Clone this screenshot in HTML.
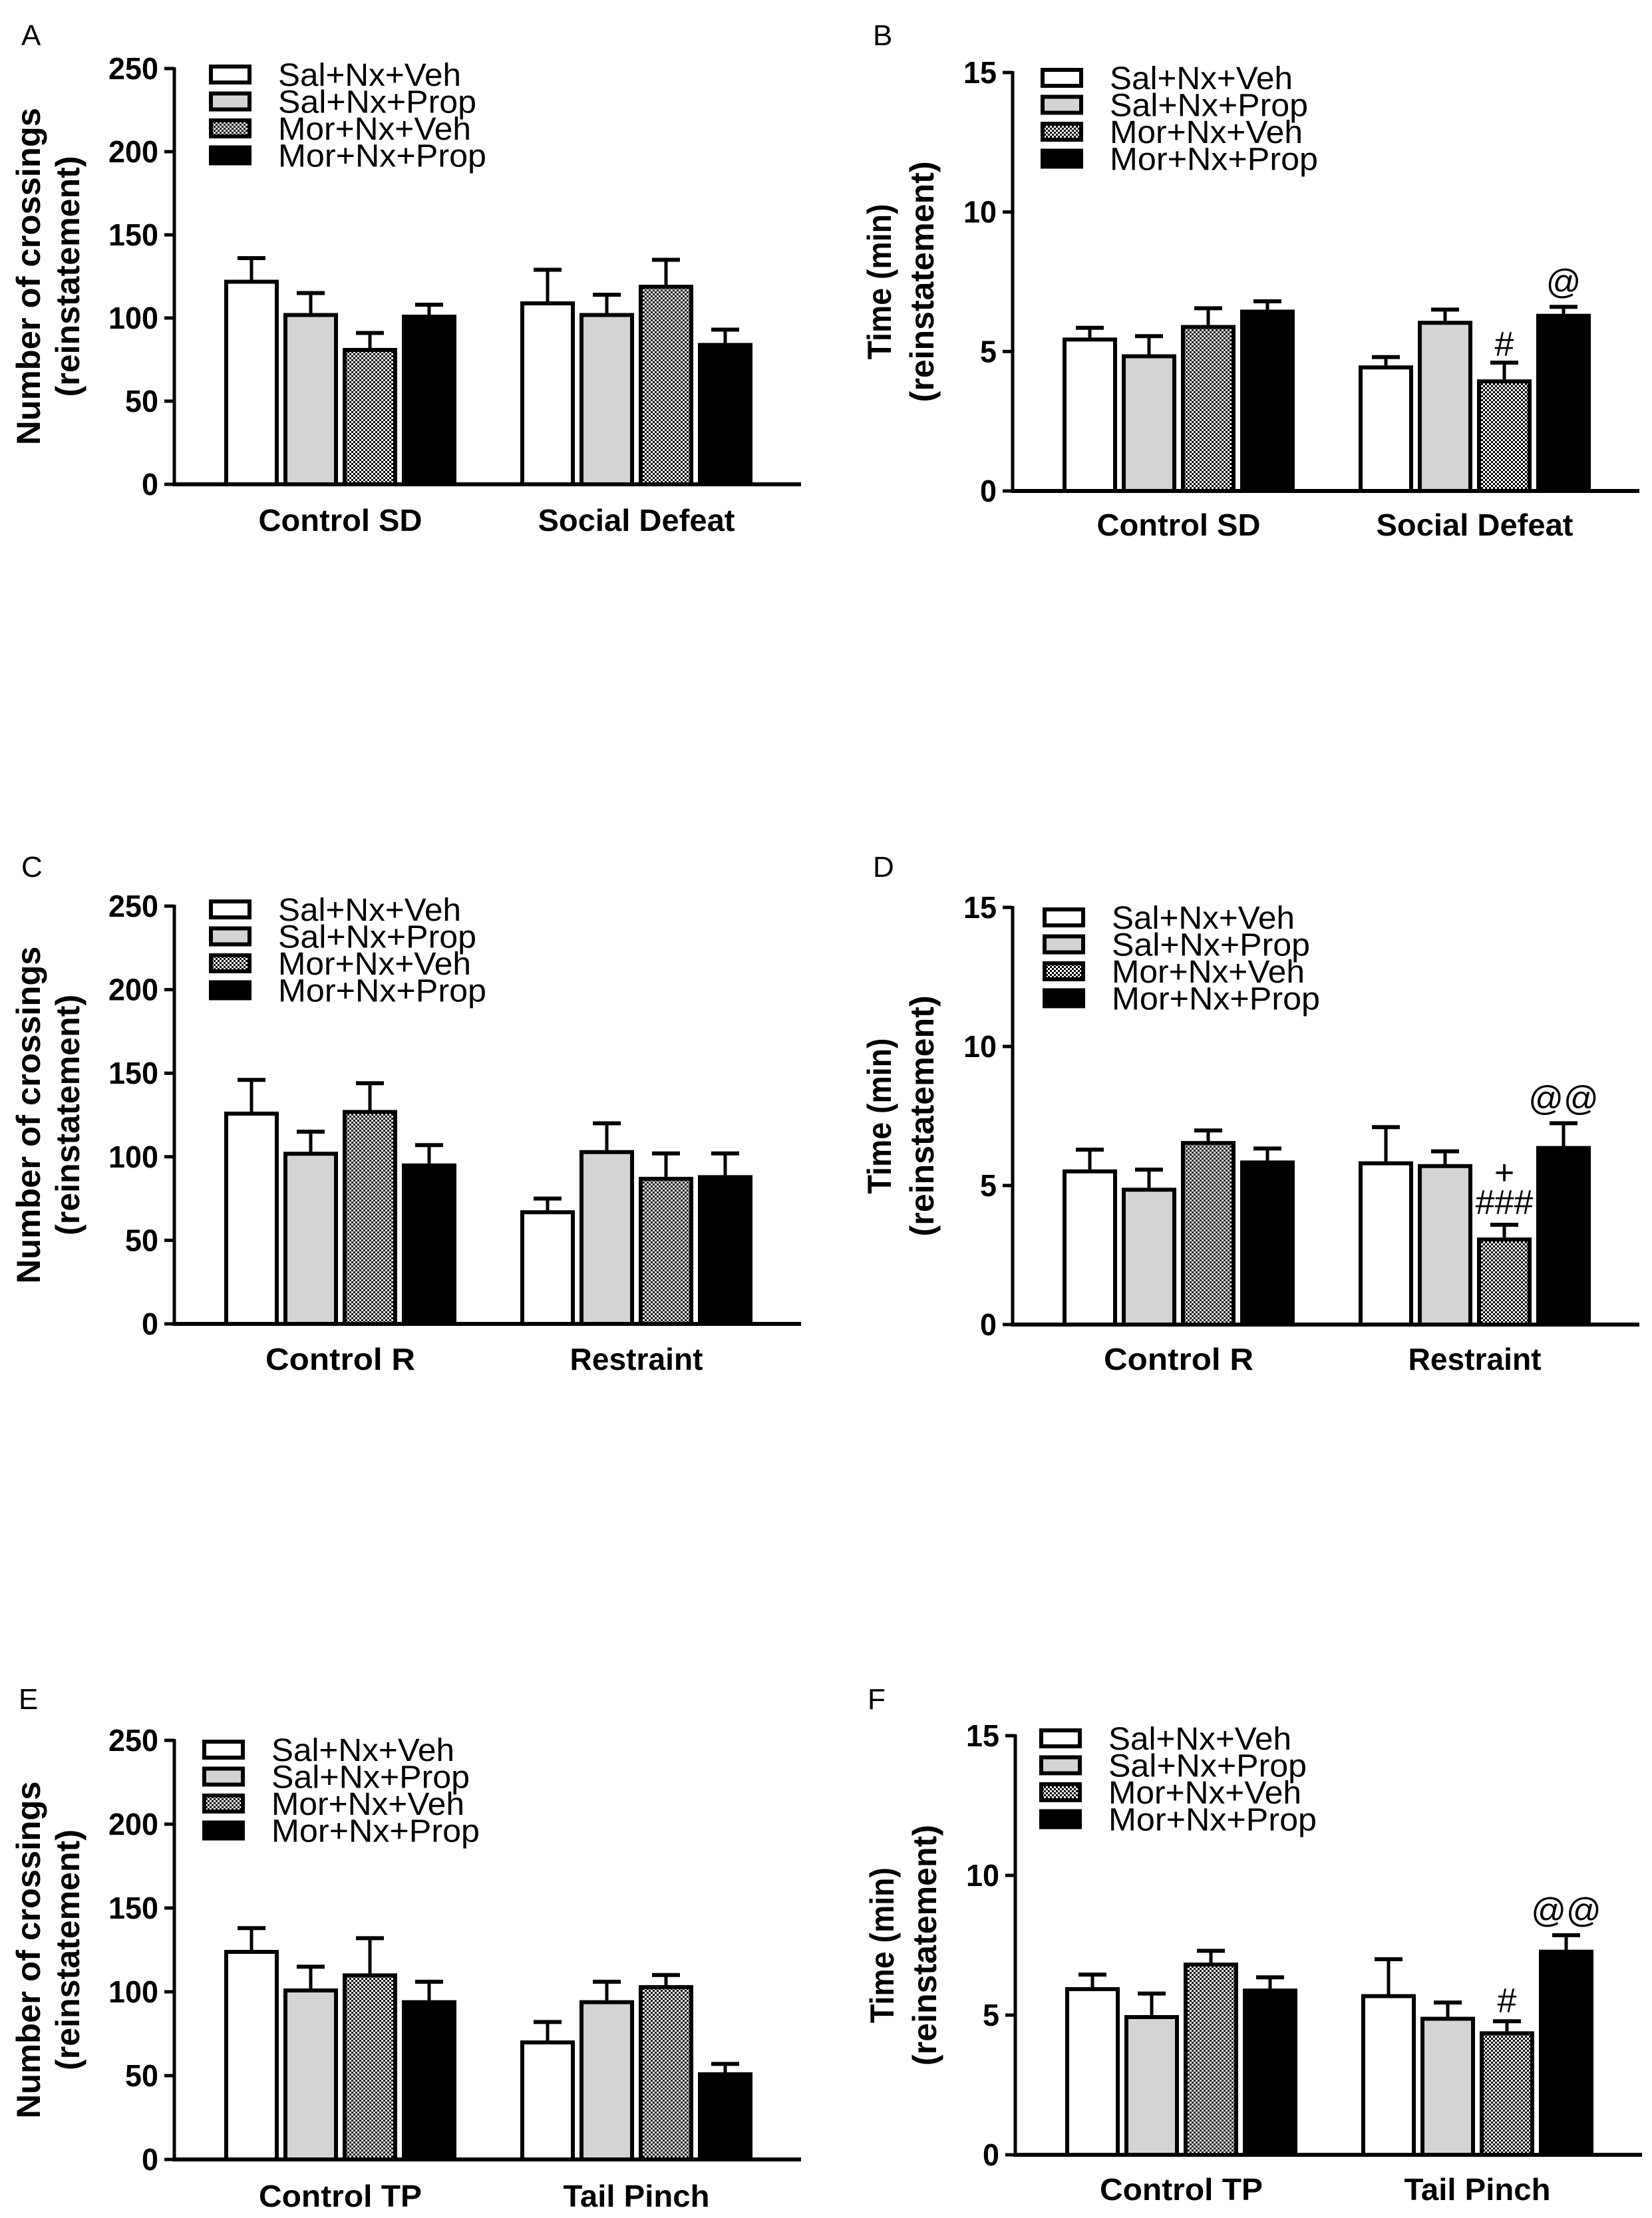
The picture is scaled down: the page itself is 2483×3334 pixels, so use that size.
<!DOCTYPE html>
<html><head><meta charset="utf-8">
<style>
html,body{margin:0;padding:0;background:#fff;}
svg{display:block;}
text{font-family:"Liberation Sans",Arial,sans-serif;}
</style></head>
<body>
<svg id="fig" width="2483" height="3334" viewBox="0 0 2483 3334" xmlns="http://www.w3.org/2000/svg">
<defs>
<pattern id="checker" width="6" height="6" patternUnits="userSpaceOnUse">
<rect width="6" height="6" fill="#fff"/>
<rect width="3" height="3" fill="#000"/>
<rect x="3" y="3" width="3" height="3" fill="#000"/>
</pattern>
</defs>
</svg>
<script>
// ---- data ----
const seriesNames = ["Sal+Nx+Veh","Sal+Nx+Prop","Mor+Nx+Veh","Mor+Nx+Prop"];
const legendWidths = [275,298,290,313];
const crossTicks = [0,50,100,150,200,250];
const timeTicks = [0,5,10,15];

const catsA = ["Control SD","Social Defeat"];
const meanA = [[123,103,82,102],[110,103,120,85]];
const errA  = [[136,115,91,108],[129,114,135,93]];

const catsB = ["Control SD","Social Defeat"];
const meanB = [[5.5,4.9,5.95,6.5],[4.5,6.1,4.0,6.35]];
const errB  = [[5.85,5.55,6.55,6.8],[4.8,6.5,4.6,6.6]];
const annB  = [[1,2,"#",10],[1,3,"@",20]];

const catsC = ["Control R","Restraint"];
const meanC = [[127,103,128,96],[68,104,88,89]];
const errC  = [[146,115,144,107],[75,120,102,102]];

const catsD = ["Control R","Restraint"];
const meanD = [[5.58,4.92,6.6,5.9],[5.87,5.77,3.13,6.42]];
const errD  = [[6.29,5.57,6.98,6.33],[7.1,6.23,3.59,7.24]];
const annD  = [[1,2,"###",16],[1,2,"+",61],[1,3,"@@",20]];

const catsE = ["Control TP","Tail Pinch"];
const meanE = [[125,102,111,95],[71,95,104,52]];
const errE  = [[138,115,132,106],[82,106,110,57]];

const catsF = ["Control TP","Tail Pinch"];
const meanF = [[6.0,5.0,6.88,5.95],[5.75,4.94,4.42,7.34]];
const errF  = [[6.45,5.77,7.3,6.35],[7.0,5.45,4.78,7.86]];
const annF  = [[1,2,"#",13],[1,3,"@@",20]];

const svg = document.getElementById('fig');
const NS = "http://www.w3.org/2000/svg";
function mk(tag, attrs, parent){
  const e = document.createElementNS(NS, tag);
  for (const k in attrs) e.setAttribute(k, attrs[k]);
  (parent||svg).appendChild(e);
  return e;
}
const fills = ["#fff","#d4d4d4","url(#checker)","#000"];
const catWidth = {"Control SD":246,"Social Defeat":296,"Control R":225,"Restraint":200,"Control TP":245,"Tail Pinch":220};

function panel(p){
  const g = mk('g',{});
  
  
  const yScale = v => p.y0 - (v/p.ymax)*(p.y0-p.yTop);
  const L = mk('text',{x:p.lx,y:p.ly,'font-size':44},g);
  L.textContent = p.letter;
  
  
  const step = 89, bw = 82;
  p.means.forEach((grp,gi)=>{
    const gx = p.ax + (gi===0 ? 75 : 520);
    grp.forEach((v,si)=>{
      const x = gx + si*step;
      const yt = yScale(v), ye = yScale(p.errs[gi][si]);
      const cx = x + bw/2;
      const el = mk('line',{x1:cx,x2:cx,y1:yt,y2:ye,stroke:'#000','stroke-width':5},g);
      
      
      const cap = mk('line',{x1:cx-21,x2:cx+21,y1:ye,y2:ye,stroke:'#000','stroke-width':6},g);
      
      
      const r = mk('rect',{x:x+3,y:yt+3,width:bw-6,height:Math.max(0,p.y0-yt-3),fill:fills[si],stroke:'#000','stroke-width':6},g);
      
      
    });
    const cxg = gx + (3*step+bw)/2;
    const ct = mk('text',{x:cxg,y:p.cy,'font-size':46,'font-weight':'bold','text-anchor':'middle',textLength:catWidth[p.cats[gi]]||240,lengthAdjust:'spacingAndGlyphs'},g);
    ct.textContent = p.cats[gi];
    
    
  });
  (p.ann||[]).forEach(a=>{
    const gx = p.ax + (a[0]===0 ? 75 : 520);
    const cx = gx + a[1]*step + bw/2;
    const ye = yScale(p.errs[a[0]][a[1]]);
    const t = mk('text',{x:cx,y:ye-a[3],'font-size':52,'text-anchor':'middle'},g);
    t.textContent = a[2];
    
    
  });
  const ya = mk('line',{x1:p.ax,x2:p.ax,y1:p.yTop-2,y2:p.y0+3,stroke:'#000','stroke-width':5},g);
  
  
  const xa = mk('line',{x1:p.ax-2,x2:p.ax+942,y1:p.y0,y2:p.y0,stroke:'#000','stroke-width':6},g);
  
  
  p.ticks.forEach(tv=>{
    const y = yScale(tv);
    const tk = mk('line',{x1:p.ax-15,x2:p.ax,y1:y,y2:y,stroke:'#000','stroke-width':5},g);
    
    
    const s = String(tv);
    const tl = mk('text',{x:p.ax-24,y:y+16,'font-size':46,'font-weight':'bold','text-anchor':'end',textLength:s.length*25,lengthAdjust:'spacingAndGlyphs'},g);
    tl.textContent = s;
    
    
  });
  const ym = (p.y0+p.yTop)/2;
  const t1 = mk('text',{x:0,y:0,'font-size':50,'font-weight':'bold','text-anchor':'middle',transform:`translate(${p.ax+p.t1dx},${ym}) rotate(-90)`,textLength:p.t1len,lengthAdjust:'spacingAndGlyphs'},g);
  t1.textContent = p.title1;
  
  
  const t2 = mk('text',{x:0,y:0,'font-size':50,'font-weight':'bold','text-anchor':'middle',transform:`translate(${p.ax+p.t2dx},${ym}) rotate(-90)`,textLength:362,lengthAdjust:'spacingAndGlyphs'},g);
  t2.textContent = "(reinstatement)";
  
  
  seriesNames.forEach((n,i)=>{
    const by = p.legY + i*40.5;
    const lr = mk('rect',{x:p.legX+3,y:by+3,width:58,height:24,fill:fills[i],stroke:'#000','stroke-width':6},g);
    
    
    const lt = mk('text',{x:p.legX+104,y:by+32,'font-size':48,textLength:legendWidths[i],lengthAdjust:'spacingAndGlyphs'},g);
    lt.textContent = n;
    
    
  });
}

const crossTitle = {title1:"Number of crossings", t1dx:-202, t2dx:-143, t1len:507, ticks:crossTicks, ymax:250};
const timeTitle  = {title1:"Time (min)", t1dx:-183, t2dx:-119, t1len:234, ticks:timeTicks, ymax:15};

panel(Object.assign({letter:"A",lx:32,ly:68,ax:262,yTop:103,y0:728,cats:catsA,means:meanA,errs:errA,cy:798,legX:314,legY:97},crossTitle));
panel(Object.assign({letter:"B",lx:1312,ly:68,ax:1522,yTop:109,y0:738,cats:catsB,means:meanB,errs:errB,ann:annB,cy:805,legX:1564,legY:102},timeTitle));
panel(Object.assign({letter:"C",lx:32,ly:1318,ax:262,yTop:1362,y0:1990,cats:catsC,means:meanC,errs:errC,cy:2059,legX:314,legY:1352},crossTitle));
panel(Object.assign({letter:"D",lx:1312,ly:1318,ax:1522,yTop:1364,y0:1991,cats:catsD,means:meanD,errs:errD,ann:annD,cy:2059,legX:1567,legY:1364},timeTitle));
panel(Object.assign({letter:"E",lx:28,ly:2569,ax:262,yTop:2616,y0:3246,cats:catsE,means:meanE,errs:errE,cy:3317,legX:304,legY:2615},crossTitle));
panel(Object.assign({letter:"F",lx:1304,ly:2569,ax:1526,yTop:2609,y0:3239,cats:catsF,means:meanF,errs:errF,ann:annF,cy:3307,legX:1562,legY:2598},timeTitle));
</script>
</body></html>
